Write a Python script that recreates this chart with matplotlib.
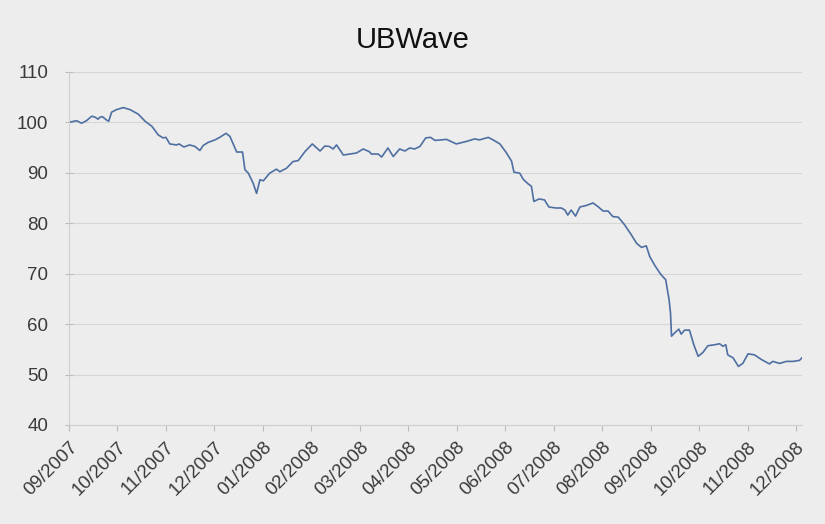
import matplotlib
matplotlib.use("Agg")
import numpy as np
from matplotlib import pyplot as plt

# months since 09/2007 (ticks are evenly spaced, one per month)
months = [0.0, 0.16, 0.26, 0.36, 0.47, 0.54, 0.60, 0.64, 0.69, 0.78, 0.82, 0.88, 0.98,
          1.12, 1.26, 1.43, 1.57, 1.71, 1.84, 1.94, 2.00, 2.08, 2.22, 2.27, 2.37,
          2.49, 2.60, 2.70, 2.77, 2.87, 3.01, 3.11, 3.24, 3.32, 3.46, 3.58, 3.63,
          3.70, 3.80, 3.87, 3.94, 4.01, 4.14, 4.28, 4.35, 4.49, 4.62, 4.73, 4.87,
          5.02, 5.18, 5.28, 5.37, 5.45, 5.52, 5.66, 5.79, 5.93, 6.07, 6.19, 6.24,
          6.38, 6.45, 6.58, 6.69, 6.82, 6.93, 7.03, 7.13, 7.24, 7.36, 7.46, 7.55,
          7.79, 7.99, 8.20, 8.37, 8.47, 8.65, 8.75, 8.89, 9.02, 9.13, 9.18, 9.30,
          9.37, 9.47, 9.54, 9.59, 9.70, 9.81, 9.90, 10.05, 10.16, 10.23, 10.29,
          10.36, 10.45, 10.54, 10.67, 10.81, 10.91, 11.02, 11.12, 11.22, 11.33,
          11.46, 11.60, 11.71, 11.81, 11.91, 11.98, 12.08, 12.19, 12.25, 12.31,
          12.38, 12.41, 12.43, 12.49, 12.58, 12.63, 12.70, 12.80, 12.89, 12.98,
          13.08, 13.18, 13.32, 13.42, 13.49, 13.55, 13.59, 13.70, 13.81, 13.90,
          14.01, 14.14, 14.28, 14.45, 14.52, 14.66, 14.80, 14.94, 15.07, 15.12]
values = [100.0, 100.3, 99.8, 100.3, 101.2, 101.0, 100.6, 101.0, 101.1, 100.4, 100.2, 102.0, 102.5,
          102.9, 102.5, 101.6, 100.2, 99.2, 97.5, 96.9, 97.0, 95.7, 95.5, 95.7, 95.1,
          95.5, 95.2, 94.4, 95.4, 96.0, 96.5, 97.0, 97.8, 97.2, 94.1, 94.1, 90.6,
          89.9, 87.9, 85.9, 88.6, 88.4, 89.9, 90.7, 90.2, 90.9, 92.2, 92.4, 94.2,
          95.7, 94.3, 95.3, 95.2, 94.7, 95.5, 93.5, 93.7, 93.9, 94.7, 94.2, 93.7,
          93.7, 93.1, 94.9, 93.2, 94.7, 94.3, 94.9, 94.7, 95.2, 96.9, 97.0, 96.4,
          96.6, 95.7, 96.2, 96.7, 96.5, 97.0, 96.5, 95.7, 94.0, 92.3, 90.1, 89.9,
          88.7, 87.8, 87.3, 84.3, 84.8, 84.6, 83.2, 83.0, 83.0, 82.6, 81.6,
          82.6, 81.4, 83.2, 83.5, 84.0, 83.3, 82.4, 82.4, 81.3, 81.2,
          79.7, 77.7, 76.0, 75.2, 75.5, 73.4, 71.7, 70.1, 69.4, 68.8,
          64.8, 62.1, 57.6, 58.2, 59.0, 58.0, 58.8, 58.8, 55.9, 53.6,
          54.4, 55.7, 55.9, 56.1, 55.6, 55.9, 53.9, 53.3, 51.6, 52.2,
          54.1, 53.9, 53.0, 52.1, 52.6, 52.2, 52.6, 52.6, 52.8, 53.3]

tick_labels = ['09/2007', '10/2007', '11/2007', '12/2007', '01/2008', '02/2008',
               '03/2008', '04/2008', '05/2008', '06/2008', '07/2008', '08/2008',
               '09/2008', '10/2008', '11/2008', '12/2008']
y_ticks = [40, 50, 60, 70, 80, 90, 100, 110]

plt.rcParams['font.family'] = ['Liberation Sans', 'DejaVu Sans']
bg = '#ecedec'

fig = plt.figure(figsize=(8.25, 5.24), dpi=100, facecolor=bg)
ax = fig.add_axes([0.0836, 0.189, 0.889, 0.674], facecolor=bg)

ax.plot(months, values, color='#4f6fa3', lw=1.2)

ax.set_xlim(0, 15.13)
ax.set_ylim(40, 110)
ax.set_yticks(y_ticks)
ax.set_xticks(range(len(tick_labels)))
ax.set_xticklabels(tick_labels, rotation=45, ha='right', rotation_mode='anchor')

ax.grid(axis='y', color='#d6d6d6', lw=0.8)
ax.set_axisbelow(True)
for s in ['top', 'right']:
    ax.spines[s].set_visible(False)
for s in ['left', 'bottom']:
    ax.spines[s].set_color('#cfcfcf')
    ax.spines[s].set_linewidth(0.8)

ax.tick_params(axis='both', colors='#bbbbbb', length=4, width=0.8,
               labelcolor='#3a3a3a', labelsize=13.5)
ax.tick_params(axis='y', pad=12, direction='inout', length=6)
ax.tick_params(axis='x', pad=6)

fig.text(0.5, 0.923, 'UBWave', ha='center', va='center', fontsize=21, color='#111111')

fig.savefig('out.png', dpi=100, facecolor=bg)
